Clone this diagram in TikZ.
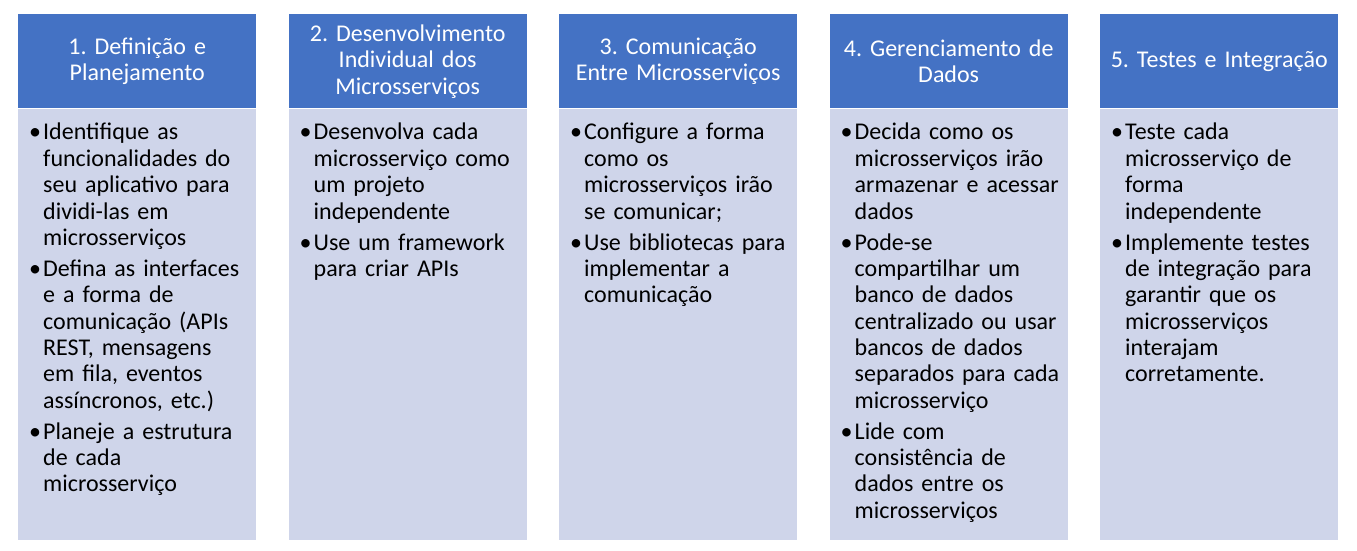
\documentclass[tikz,border=0pt]{standalone}
\usepackage{fontspec}
\setmainfont{Carlito}
\usetikzlibrary{matrix}
\definecolor{headblue}{HTML}{4472C4}
\definecolor{bodylav}{HTML}{CFD5EA}
\frenchspacing
\newcommand{\bitem}[1]{\par\hangindent=12pt\hangafter=1\rightskip=-20pt plus 1fil\noindent\makebox[12pt][l]{\kern-2pt\textbullet}#1\par\vspace{4.7pt}}

\begin{document}
\begin{tikzpicture}[
    every node/.style={inner sep=0pt, rectangle, font=\fontsize{24}{26.35}\selectfont},
    head/.style={fill=headblue, text=white, text width=222pt, inner xsep=8pt, minimum height=94pt, align=center},
    body/.style={fill=bodylav, text width=212pt, inner xsep=13pt, text height=5pt, text depth=426pt, align=left}]
\useasboundingbox (0,0) rectangle (1357pt,-551pt);
\matrix (m) [ampersand replacement=\&, column sep=32.5pt, row sep=0pt, anchor=north west] at (18pt,-14pt)
{
\node [head] (h1) {1. Definição e\\Planejamento}; \&
\node [head] (h2) {2. Desenvolvimento\\Individual dos\\Microsserviços}; \&
\node [head] (h3) {3. Comunicação\\Entre Microsserviços}; \&
\node [head] (h4) {4. Gerenciamento de\\Dados}; \&
\node [head] (h5) {5. Testes e Integração}; \\
\node [body] (b1) {\bitem{Identifique as\newline funcionalidades do\newline seu aplicativo para\newline dividi-las em\newline microsserviços}%
  \bitem{Defina as interfaces\newline e a forma de\newline comunicação (APIs\newline REST, mensagens\newline em fila, eventos\newline assíncronos, etc.)}%
  \bitem{Planeje a estrutura\newline de cada\newline microsserviço}}; \&
\node [body] (b2) {\bitem{Desenvolva cada\newline microsserviço como\newline um projeto\newline independente}%
  \bitem{Use um framework\newline para criar APIs}}; \&
\node [body] (b3) {\bitem{Configure a forma\newline como os\newline microsserviços irão\newline se comunicar;}%
  \bitem{Use bibliotecas para\newline implementar a\newline comunicação}}; \&
\node [body] (b4) {\bitem{Decida como os\newline microsserviços irão\newline armazenar e acessar\newline dados}%
  \bitem{Pode-se\newline compartilhar um\newline banco de dados\newline centralizado ou usar\newline bancos de dados\newline separados para cada\newline microsserviço}%
  \bitem{Lide com\newline consistência de\newline dados entre os\newline microsserviços}}; \&
\node [body] (b5) {\bitem{Teste cada\newline microsserviço de\newline forma\newline independente}%
  \bitem{Implemente testes\newline de integração para\newline garantir que os\newline microsserviços\newline interajam\newline corretamente.}}; \\
};
\end{tikzpicture}
\end{document}
